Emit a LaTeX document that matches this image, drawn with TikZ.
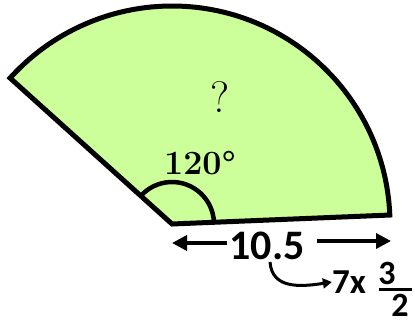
\documentclass[tikz,border=0pt]{standalone}
\usepackage{fontspec}
\newfontfamily\carlitofont{Carlito}
\usetikzlibrary{arrows.meta,calc}
\definecolor{sectorgreen}{RGB}{204,255,153}
\tikzset{
  sector/.style={draw=black, fill=sectorgreen, line width=5pt, line join=miter},
  anglearc/.style={draw=black, line width=4.5pt},
  dimarrow/.style={line width=3.5pt, -{Triangle[length=15pt,width=15pt]}},
  curvearrow/.style={line width=3pt, -{Triangle[length=9pt,width=10pt]}},
  lbl/.style={inner sep=0pt},
  hand/.style={lbl, font=\carlitofont\bfseries\fontsize{#1}{#1}\selectfont}
}
\begin{document}
\begin{tikzpicture}[x=1pt,y=1pt]
\useasboundingbox (0,0) rectangle (415,325);
\coordinate (O) at (172,101);
\draw[sector] (O) -- ++(2.36:218) coordinate (A) arc[start angle=2.36, end angle=137.97, radius=218] coordinate (B) -- cycle;
\draw[anglearc] ($(O)+(2.36:42)$) arc[start angle=2.36, end angle=137.97, radius=42];
\node[lbl, font=\fontsize{44}{48}\selectfont] (q) at (220,228) {?};
\node[lbl, font=\fontsize{34}{38}\selectfont\bfseries] (ang) at (200,162) {120\textdegree};
\node[lbl, font=\carlitofont\fontsize{42}{46}\selectfont\bfseries] (len) at (267,79) {10.5};
\coordinate (L) at (172,82);
\coordinate (R) at (391,84);
\draw[dimarrow] (227,82) -- (L);
\draw[dimarrow] (317,84) -- (R);
\node[hand=35] (sev) at (349,43) {7x};
\node[hand=34] (three) at (387,52) {3};
\node[hand=34, text depth=0pt] (two) at (400,20) {2};
\draw[line width=3pt] (379,36) -- (412,36);
\draw[curvearrow] (270,63) .. controls (272,36) and (300,38) .. (sev.west);
\end{tikzpicture}
\end{document}
